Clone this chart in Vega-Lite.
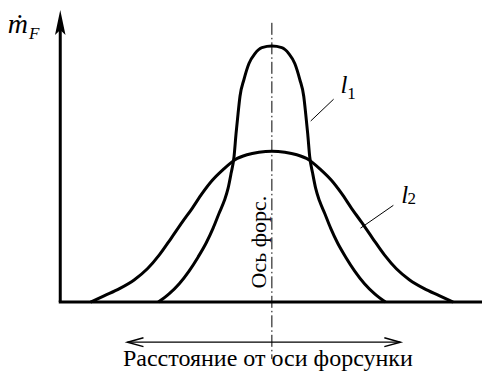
{
  "$schema": "https://vega.github.io/schema/vega-lite/v6.json",
  "width": 484,
  "height": 371,
  "autosize": {"type": "fit", "contains": "padding"},
  "padding": 0,
  "background": "white",
  "config": {"view": {"stroke": null}},
  "datasets": {
    "curves": [
      {"series": "l1", "x": -114, "y": 0},
      {"series": "l1", "x": -103, "y": 8.5},
      {"series": "l1", "x": -93, "y": 18.5},
      {"series": "l1", "x": -83, "y": 31.5},
      {"series": "l1", "x": -74, "y": 45.5},
      {"series": "l1", "x": -66, "y": 59.5},
      {"series": "l1", "x": -59, "y": 74.5},
      {"series": "l1", "x": -53, "y": 89.5},
      {"series": "l1", "x": -48, "y": 101.5},
      {"series": "l1", "x": -44, "y": 114.5},
      {"series": "l1", "x": -41, "y": 129.5},
      {"series": "l1", "x": -38, "y": 146.5},
      {"series": "l1", "x": -36, "y": 169.5},
      {"series": "l1", "x": -34, "y": 189.5},
      {"series": "l1", "x": -32, "y": 207.5},
      {"series": "l1", "x": -28, "y": 224.5},
      {"series": "l1", "x": -23, "y": 240.5},
      {"series": "l1", "x": -17, "y": 250.5},
      {"series": "l1", "x": -10, "y": 256.5},
      {"series": "l1", "x": 0, "y": 258},
      {"series": "l1", "x": 10, "y": 256.5},
      {"series": "l1", "x": 17, "y": 250.5},
      {"series": "l1", "x": 23, "y": 240.5},
      {"series": "l1", "x": 28, "y": 224.5},
      {"series": "l1", "x": 32, "y": 207.5},
      {"series": "l1", "x": 34, "y": 189.5},
      {"series": "l1", "x": 36, "y": 169.5},
      {"series": "l1", "x": 38, "y": 146.5},
      {"series": "l1", "x": 41, "y": 129.5},
      {"series": "l1", "x": 44, "y": 114.5},
      {"series": "l1", "x": 48, "y": 101.5},
      {"series": "l1", "x": 53, "y": 89.5},
      {"series": "l1", "x": 59, "y": 74.5},
      {"series": "l1", "x": 66, "y": 59.5},
      {"series": "l1", "x": 74, "y": 45.5},
      {"series": "l1", "x": 83, "y": 31.5},
      {"series": "l1", "x": 93, "y": 18.5},
      {"series": "l1", "x": 103, "y": 8.5},
      {"series": "l1", "x": 114, "y": 0},
      {"series": "l2", "x": -182, "y": 0},
      {"series": "l2", "x": -168, "y": 6.5},
      {"series": "l2", "x": -153, "y": 13.5},
      {"series": "l2", "x": -138, "y": 22.5},
      {"series": "l2", "x": -125, "y": 33.5},
      {"series": "l2", "x": -113, "y": 47.5},
      {"series": "l2", "x": -101, "y": 64.5},
      {"series": "l2", "x": -90, "y": 80.5},
      {"series": "l2", "x": -80, "y": 94.5},
      {"series": "l2", "x": -70, "y": 109.5},
      {"series": "l2", "x": -60, "y": 122.5},
      {"series": "l2", "x": -49, "y": 133.5},
      {"series": "l2", "x": -37, "y": 143.5},
      {"series": "l2", "x": -25, "y": 148.5},
      {"series": "l2", "x": -13, "y": 151},
      {"series": "l2", "x": 0, "y": 152},
      {"series": "l2", "x": 13, "y": 151},
      {"series": "l2", "x": 25, "y": 148.5},
      {"series": "l2", "x": 37, "y": 143.5},
      {"series": "l2", "x": 49, "y": 133.5},
      {"series": "l2", "x": 60, "y": 122.5},
      {"series": "l2", "x": 70, "y": 109.5},
      {"series": "l2", "x": 80, "y": 94.5},
      {"series": "l2", "x": 90, "y": 80.5},
      {"series": "l2", "x": 101, "y": 64.5},
      {"series": "l2", "x": 113, "y": 47.5},
      {"series": "l2", "x": 125, "y": 33.5},
      {"series": "l2", "x": 138, "y": 22.5},
      {"series": "l2", "x": 153, "y": 13.5},
      {"series": "l2", "x": 168, "y": 6.5},
      {"series": "l2", "x": 182, "y": 0}
    ],
    "axes": [
      {"part": "baseline", "x": -214, "y": 0, "x2": 211, "y2": 0},
      {"part": "flow", "x": -212.5, "y": 0, "x2": -212.5, "y2": 276}
    ],
    "flowTip": [{"x": -212.5, "y": 294.5}],
    "nozzleAxis": [{"x": 0, "y": 281.5, "x2": 0, "y2": -57.5}],
    "leaders": [
      {"curve": "l1", "x": 39, "y": 182.5, "x2": 62, "y2": 204.5},
      {"curve": "l2", "x": 89, "y": 74.5, "x2": 122, "y2": 97.5}
    ],
    "span": [{"x": -145, "y": -40.5, "x2": 129, "y2": -40.5}],
    "spanLeft": [{"x": -145, "y": -40.5}],
    "spanRight": [{"x": 129, "y": -40.5}],
    "curveNames": [
      {"name": "l", "x": 72.5, "y": 210.5},
      {"name": "l", "x": 133.5, "y": 99.5}
    ],
    "curveIndex": [
      {"idx": "1", "x": 80, "y": 204.5},
      {"idx": "2", "x": 140.5, "y": 98.5}
    ],
    "flowName": [{"t": "ṁ", "x": -255, "y": 271.5}],
    "flowIndex": [{"t": "F", "x": -244, "y": 265.5}],
    "axisName": [{"t": "Ось форс.", "x": -6.3, "y": 60.5}],
    "distName": [{"t": "Расстояние от оси форсунки", "x": -4, "y": -64}]
  },
  "encoding": {
    "x": {"field": "x", "type": "quantitative", "scale": {"domain": [-273, 211], "nice": false, "zero": false}, "axis": null},
    "y": {"field": "y", "type": "quantitative", "scale": {"domain": [-66.5, 304.5], "nice": false, "zero": false}, "axis": null}
  },
  "layer": [
    {
      "data": {"name": "nozzleAxis"},
      "mark": {"type": "rule", "color": "black", "strokeWidth": 1, "strokeDash": [12, 3, 1.5, 3]},
      "encoding": {"x2": {"field": "x2"}, "y2": {"field": "y2"}}
    },
    {
      "data": {"name": "axes"},
      "mark": {"type": "rule", "color": "black", "strokeWidth": 3},
      "encoding": {"x2": {"field": "x2"}, "y2": {"field": "y2"}}
    },
    {
      "data": {"name": "flowTip"},
      "mark": {"type": "point", "shape": "M0,0L0.42,2L0,1.6L-0.42,2Z", "size": 625, "filled": true, "fill": "black", "strokeWidth": 0, "opacity": 1}
    },
    {
      "data": {"name": "curves"},
      "mark": {"type": "line", "color": "black", "strokeWidth": 3, "interpolate": "monotone"},
      "encoding": {"detail": {"field": "series"}}
    },
    {
      "data": {"name": "leaders"},
      "mark": {"type": "rule", "color": "black", "strokeWidth": 1},
      "encoding": {"x2": {"field": "x2"}, "y2": {"field": "y2"}}
    },
    {
      "data": {"name": "span"},
      "mark": {"type": "rule", "color": "black", "strokeWidth": 1.2},
      "encoding": {"x2": {"field": "x2"}, "y2": {"field": "y2"}}
    },
    {
      "data": {"name": "spanLeft"},
      "mark": {"type": "point", "shape": "M2,-0.55L0,0L2,0.55", "size": 256, "filled": false, "stroke": "black", "strokeWidth": 1.5, "opacity": 1}
    },
    {
      "data": {"name": "spanRight"},
      "mark": {"type": "point", "shape": "M-2,-0.55L0,0L-2,0.55", "size": 256, "filled": false, "stroke": "black", "strokeWidth": 1.5, "opacity": 1}
    },
    {
      "data": {"name": "curveNames"},
      "mark": {"type": "text", "font": "Liberation Serif", "fontStyle": "italic", "fontSize": 25, "align": "center", "baseline": "alphabetic", "color": "black"},
      "encoding": {"text": {"field": "name"}}
    },
    {
      "data": {"name": "curveIndex"},
      "mark": {"type": "text", "font": "Liberation Serif", "fontSize": 17, "align": "center", "baseline": "alphabetic", "color": "black"},
      "encoding": {"text": {"field": "idx"}}
    },
    {
      "data": {"name": "flowName"},
      "mark": {"type": "text", "font": "Liberation Serif", "fontStyle": "italic", "fontSize": 28, "align": "center", "baseline": "alphabetic", "color": "black"},
      "encoding": {"text": {"field": "t"}}
    },
    {
      "data": {"name": "flowIndex"},
      "mark": {"type": "text", "font": "Liberation Serif", "fontStyle": "italic", "fontSize": 17, "align": "left", "baseline": "alphabetic", "color": "black"},
      "encoding": {"text": {"field": "t"}}
    },
    {
      "data": {"name": "axisName"},
      "mark": {"type": "text", "font": "Liberation Serif", "fontSize": 22, "angle": 270, "align": "center", "baseline": "alphabetic", "color": "black"},
      "encoding": {"text": {"field": "t"}}
    },
    {
      "data": {"name": "distName"},
      "mark": {"type": "text", "font": "Liberation Serif", "fontSize": 24, "align": "center", "baseline": "alphabetic", "color": "black"},
      "encoding": {"text": {"field": "t"}}
    }
  ]
}
